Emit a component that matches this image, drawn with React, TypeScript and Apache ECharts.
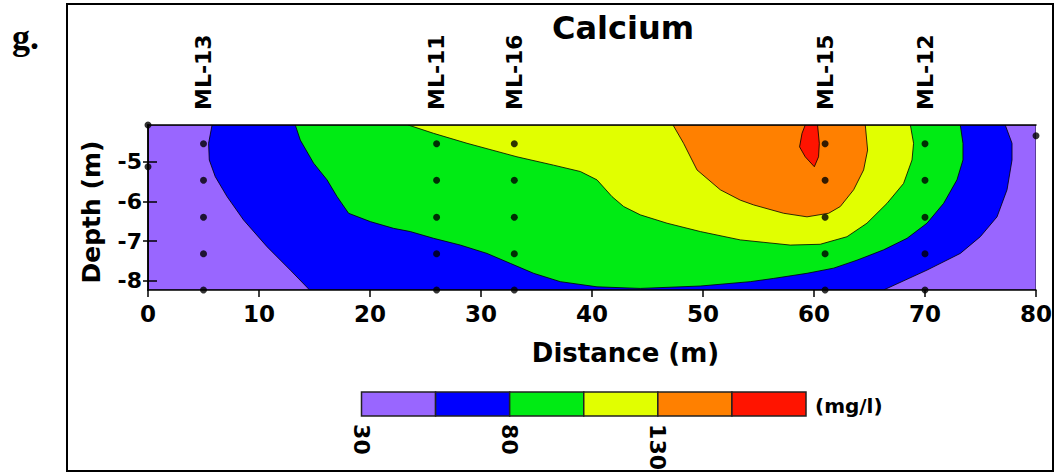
import React, { useEffect, useRef } from "react";
import * as echarts from "echarts";

const FONT = "'DejaVu Sans', Verdana, sans-serif";

// Axis extents and ticks
const distanceTicks = [0, 10, 20, 30, 40, 50, 60, 70, 80];
const depthTicks = [-8, -7, -6, -5];
const depthTop = -4.08;
const depthBottom = -8.23;

// Multilevel wells along the transect
const wellNames = ["ML-13", "ML-11", "ML-16", "ML-15", "ML-12"];
const wellDistances = [5, 26, 33, 61, 70];
const sampleDepths = [-4.55, -5.47, -6.4, -7.32, -8.23];
const extraSamples = [
  [0, -4.08],
  [0, -5.13],
  [80, -4.35],
];

// Concentration classes (mg/l)
const levelBreaks = [30, 55, 80, 105, 130, 155, 180];
const levelLabels = [30, 80, 130];
const bandColors = ["#9966FF", "#0000FF", "#00EB14", "#E1FF00", "#FF8000", "#FF1400"];

// Filled contour regions, [distance, depth]; each band is drawn over the previous one
const band30 = [
  [0, -4.08],
  [0, -8.23],
  [80, -8.23],
  [80, -4.08],
];
const band55 = [
  [5.77, -4.08], [5.46, -4.54], [5.52, -4.96], [6.06, -5.38], [7.12, -5.88],
  [8.61, -6.47], [10.72, -7.14], [12.82, -7.73], [14.56, -8.23],
  [66.27, -8.23], [70.18, -7.73], [73.18, -7.31], [74.98, -6.89], [76.49, -6.39],
  [77.39, -5.71], [77.84, -4.96], [77.84, -4.54], [77.23, -4.08],
];
const band80 = [
  [13.27, -4.08], [13.72, -4.46], [14.92, -5.04], [16.13, -5.46], [17.03, -5.88],
  [18.07, -6.3], [20.03, -6.51], [22.13, -6.68], [23.63, -6.76], [25.73, -6.93],
  [28.14, -7.1], [30.54, -7.31], [32.64, -7.56], [34.74, -7.81], [37.14, -8.02],
  [40.45, -8.15], [44.35, -8.19], [49.76, -8.13], [54.27, -8.02], [56.33, -7.94],
  [59.37, -7.81], [61.77, -7.68], [63.87, -7.48], [66.27, -7.22], [68.38, -6.93],
  [70.18, -6.55], [71.68, -6.05], [72.88, -5.46], [73.42, -4.96], [73.42, -4.54],
  [73.18, -4.08],
];
const band105 = [
  [23.45, -4.08], [25.73, -4.29], [28.74, -4.54], [33.24, -4.88], [36.54, -5.09],
  [38.95, -5.25], [40.45, -5.46], [41.8, -5.88], [42.85, -6.13], [44.35, -6.34],
  [46.76, -6.55], [49.76, -6.76], [53.36, -6.97], [57.86, -7.1], [60.56, -7.08],
  [62.97, -6.89], [64.77, -6.55], [66.58, -6.05], [68.07, -5.55], [68.83, -4.96],
  [68.97, -4.54], [68.68, -4.08],
];
const band130 = [
  [47.3, -4.08], [48.25, -4.54], [49.46, -5.21], [51.56, -5.71], [53.36, -5.97],
  [54.56, -6.09], [57.26, -6.3], [59.37, -6.39], [61.32, -6.3], [62.37, -6.13],
  [63.57, -5.71], [64.47, -5.21], [64.83, -4.71], [64.62, -4.08],
];
const band155 = [
  [59.21, -4.08], [58.92, -4.29], [58.7, -4.63], [59.21, -4.88], [60.03, -5.13],
  [60.41, -4.88], [60.48, -4.54], [60.32, -4.08],
];
const bands = [band30, band55, band80, band105, band130, band155];

const bold = { fontFamily: FONT, fontWeight: "bold" as const, color: "#000" };

export default function App() {
  const ref = useRef<HTMLDivElement>(null);

  useEffect(() => {
    if (!ref.current) return;
    const chart = echarts.init(ref.current, null, { renderer: "svg" });

    const samples: number[][] = [];
    wellDistances.forEach((x) => sampleDepths.forEach((d) => samples.push([x, d])));
    extraSamples.forEach((p) => samples.push(p));

    chart.setOption({
      animation: false,
      backgroundColor: "#fff",
      textStyle: { fontFamily: FONT },
      grid: [
        { left: 148, width: 888, top: 125, height: 165 },
        { left: 361.5, width: 444.5, top: 392, height: 27 },
      ],
      xAxis: [
        {
          gridIndex: 0,
          type: "value",
          min: 0,
          max: 80,
          interval: 10,
          position: "bottom",
          z: 10,
          axisLine: { show: true, lineStyle: { color: "#000", width: 1.5 } },
          axisTick: { show: true, length: 7, lineStyle: { color: "#000", width: 1.5 } },
          axisLabel: { ...bold, fontSize: 23, margin: 12 },
          splitLine: { show: false },
          name: "Distance (m)",
          nameLocation: "middle",
          nameGap: 50,
          nameTextStyle: { ...bold, fontSize: 26, padding: [0, 0, 0, 67] },
        },
        {
          gridIndex: 0,
          type: "value",
          min: 0,
          max: 80,
          position: "top",
          z: 10,
          axisLine: { show: true, lineStyle: { color: "#000", width: 1.5 } },
          axisTick: { show: false },
          axisLabel: {
            ...bold,
            fontSize: 22,
            rotate: -90,
            margin: 15,
            customValues: wellDistances,
            formatter: (v: number) => wellNames[wellDistances.indexOf(v)] ?? "",
          },
          splitLine: { show: false },
        },
        {
          gridIndex: 1,
          type: "value",
          min: levelBreaks[0],
          max: levelBreaks[levelBreaks.length - 1],
          axisLine: { show: false },
          axisTick: { show: false },
          splitLine: { show: false },
          axisLabel: { ...bold, fontSize: 22, rotate: -90, margin: 8, customValues: levelLabels },
        },
      ],
      yAxis: [
        {
          gridIndex: 0,
          type: "value",
          min: depthBottom,
          max: depthTop,
          position: "left",
          z: 10,
          axisLine: { show: true, lineStyle: { color: "#000", width: 1.5 } },
          axisTick: { show: true, length: 5, customValues: depthTicks, lineStyle: { color: "#000", width: 1.5 } },
          axisLabel: { ...bold, fontSize: 22, margin: 6, customValues: depthTicks },
          splitLine: { show: false },
          name: "Depth (m)",
          nameLocation: "middle",
          nameGap: 44,
          nameTextStyle: { ...bold, fontSize: 25, padding: [0, 9, 0, 0] },
        },
        {
          gridIndex: 0,
          type: "value",
          min: depthBottom,
          max: depthTop,
          position: "right",
          z: 10,
          axisLine: { show: true, lineStyle: { color: "#000", width: 1.5 } },
          axisTick: { show: true, length: 9, customValues: depthTicks, lineStyle: { color: "#000", width: 1.5 } },
          axisLabel: { show: false },
          splitLine: { show: false },
        },
        { gridIndex: 1, type: "value", min: 0, max: 1, show: false },
      ],
      series: [
        {
          type: "custom",
          name: "contours",
          xAxisIndex: 0,
          yAxisIndex: 0,
          z: 1,
          clip: true,
          data: bands.map((_, i) => [i]),
          encode: { x: -1, y: -1 },
          renderItem: (_params: any, api: any) => {
            const i = api.value(0);
            const pts = bands[i].map((p) => api.coord(p));
            return {
              type: "polygon",
              shape: { points: pts },
              style: { fill: bandColors[i], stroke: "#000", lineWidth: 0.8 },
            };
          },
        },
        {
          type: "scatter",
          name: "samples",
          xAxisIndex: 0,
          yAxisIndex: 0,
          z: 20,
          clip: false,
          symbol: "circle",
          symbolSize: 7,
          itemStyle: { color: "#000" },
          data: samples,
        },
        {
          type: "custom",
          name: "scale",
          xAxisIndex: 2,
          yAxisIndex: 2,
          data: bandColors.map((_, i) => [levelBreaks[i], levelBreaks[i + 1], i]),
          encode: { x: [0, 1], y: -1 },
          renderItem: (_params: any, api: any) => {
            const a = api.coord([api.value(0), 1]);
            const b = api.coord([api.value(1), 0]);
            return {
              type: "rect",
              shape: { x: a[0], y: a[1], width: b[0] - a[0], height: b[1] - a[1] },
              style: { fill: bandColors[api.value(2)], stroke: "#222", lineWidth: 1.5 },
            };
          },
        },
      ],
      graphic: [
        {
          type: "rect",
          shape: { x: 67, y: 4, width: 986, height: 467 },
          style: { fill: "none", stroke: "#000", lineWidth: 2 },
          silent: true,
        },
        {
          type: "text",
          x: 12,
          y: 37,
          style: {
            text: "g.",
            fontFamily: "'Liberation Serif', 'Times New Roman', serif",
            fontWeight: "bold",
            fontSize: 36,
            fill: "#000",
            verticalAlign: "middle",
          },
        },
        {
          type: "text",
          x: 623,
          y: 28,
          style: {
            text: "Calcium",
            fontFamily: FONT,
            fontWeight: "bold",
            fontSize: 32,
            fill: "#000",
            align: "center",
            verticalAlign: "middle",
          },
        },
        {
          type: "text",
          x: 815,
          y: 406,
          style: {
            text: "(mg/l)",
            fontFamily: FONT,
            fontWeight: "bold",
            fontSize: 20,
            fill: "#000",
            verticalAlign: "middle",
          },
        },
      ],
    });

    return () => chart.dispose();
  }, []);

  return (
    <div
      ref={ref}
      style={{ position: "fixed", left: 0, top: 0, width: 1058, height: 473 }}
    />
  );
}
